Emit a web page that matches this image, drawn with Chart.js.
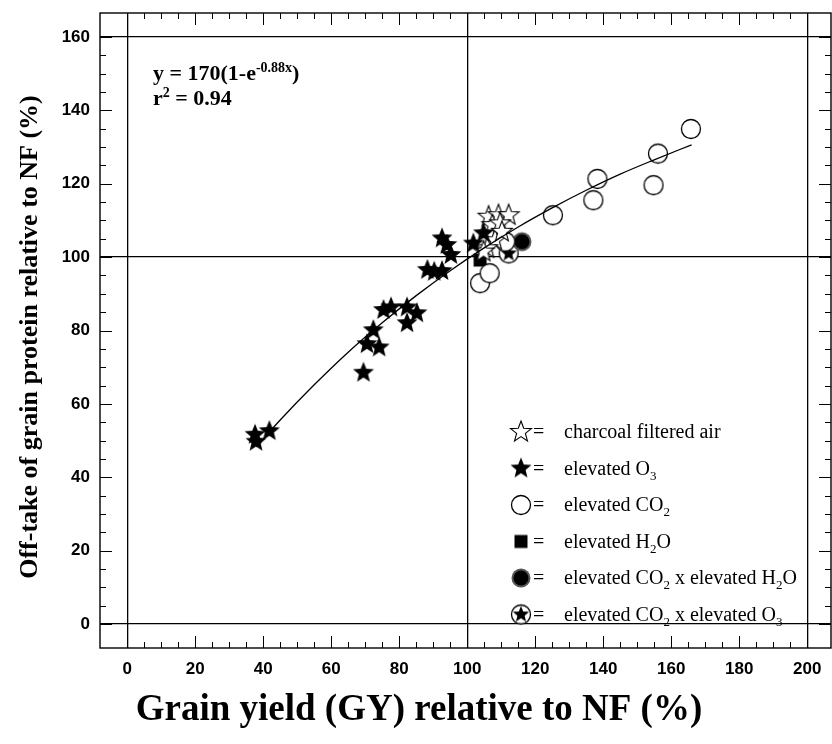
<!DOCTYPE html>
<html>
<head>
<meta charset="utf-8">
<script src="https://cdn.jsdelivr.net/npm/chart.js@4.4.0/dist/chart.umd.min.js"></script>
<style>
  html, body { margin: 0; padding: 0; background: #fff; }
</style>
</head>
<body>
<canvas id="chart" width="832" height="744"></canvas>
<script>
// ===== Data (% relative to NF) =====
const charcoalX = [106.3, 109.2, 112.2, 107.4, 109.7, 108.2, 110.2, 105.9, 104.8];
const charcoalY = [111.0, 111.4, 111.4, 108.7, 109.2, 104.6, 106.9, 102.4, 101.5];

const ozoneX = [37.6, 37.9, 41.8, 69.5, 70.5, 74.1, 72.4, 75.4, 77.6, 82.3, 85.2, 82.3, 92.6, 94.0, 95.2, 88.3, 90.3, 92.6, 101.8, 104.8];
const ozoneY = [51.6, 49.7, 52.6, 68.5, 76.3, 75.4, 80.1, 85.6, 86.3, 86.3, 84.7, 82.0, 105.1, 103.3, 100.6, 96.5, 96.0, 96.2, 103.7, 106.5];

const co2X = [103.8, 106.6, 111.2, 125.2, 137.1, 138.3, 154.8, 156.1, 165.8];
const co2Y = [92.9, 95.6, 104.2, 111.4, 115.5, 121.3, 119.6, 128.2, 134.9];

const waterX = [103.8];
const waterY = [99.2];

const co2WaterX = [116.1];
const co2WaterY = [104.2];

const co2OzoneX = [112.2];
const co2OzoneY = [101.0];

// fitted curve
const fitX = [38, 45, 55, 65, 75, 85, 95, 105, 115, 125, 135, 145, 155, 166];
const fitY = [48.3, 55.6, 65.2, 74.1, 82.1, 89.5, 96.3, 102.5, 108.2, 113.4, 118.2, 122.6, 126.5, 130.6];

const xTicks = [0, 20, 40, 60, 80, 100, 120, 140, 160, 180, 200];
const yTicks = [0, 20, 40, 60, 80, 100, 120, 140, 160];
const xRefLines = [0, 100, 200];
const yRefLines = [0, 100, 160];

// ===== Marker images =====
function makeMarker(size, draw) {
  const c = document.createElement('canvas');
  c.width = size; c.height = size;
  const g = c.getContext('2d');
  g.translate(size / 2, size / 2);
  draw(g);
  return c;
}

function starPath(g, R, r) {
  g.beginPath();
  for (let i = 0; i < 10; i++) {
    const rad = i % 2 ? r : R;
    const a = -Math.PI / 2 + i * Math.PI / 5;
    g.lineTo(rad * Math.cos(a), rad * Math.sin(a));
  }
  g.closePath();
}

const mStarOpen = makeMarker(26, g => {
  starPath(g, 11, 4.6);
  g.fillStyle = '#fff'; g.fill();
  g.lineWidth = 1.1; g.strokeStyle = '#000'; g.stroke();
});
const mStarFilled = makeMarker(26, g => {
  starPath(g, 11, 4.8);
  g.fillStyle = '#000'; g.fill();
});
const mCircle = makeMarker(26, g => {
  g.beginPath(); g.arc(0, 0, 9.5, 0, Math.PI * 2);
  g.fillStyle = '#fff'; g.fill();
  g.lineWidth = 1.3; g.strokeStyle = '#000'; g.stroke();
});
const mSquare = makeMarker(20, g => {
  g.fillStyle = '#000'; g.fillRect(-6.5, -6.5, 13, 13);
});
const mCircleFilled = makeMarker(26, g => {
  g.beginPath(); g.arc(0, 0, 9.5, 0, Math.PI * 2);
  g.fillStyle = '#555'; g.fill();
  g.beginPath(); g.arc(0, 0, 7.5, 0, Math.PI * 2);
  g.fillStyle = '#000'; g.fill();
});
const mCircleStar = makeMarker(26, g => {
  g.beginPath(); g.arc(0, 0, 9.5, 0, Math.PI * 2);
  g.fillStyle = '#fff'; g.fill();
  g.lineWidth = 1.3; g.strokeStyle = '#000'; g.stroke();
  starPath(g, 8.5, 3.8);
  g.fillStyle = '#000'; g.fill();
});

const pts = (xs, ys) => xs.map((x, i) => ({ x: x, y: ys[i] }));

const serif = "'Liberation Serif', 'Times New Roman', serif";
const sans = "'Liberation Sans', Arial, sans-serif";

// draw text made of runs: [text, mode] with mode 0 normal, 1 sub, 2 sup
function drawRuns(ctx, x, y, runs, size, weight) {
  ctx.textBaseline = 'alphabetic';
  ctx.textAlign = 'left';
  runs.forEach(([t, mode]) => {
    const s = mode ? Math.round(size * 0.65) : size;
    ctx.font = `${weight} ${s}px ${serif}`;
    const dy = mode === 1 ? size * 0.25 : mode === 2 ? -size * 0.38 : 0;
    ctx.fillText(t, x, y + dy);
    x += ctx.measureText(t).width;
  });
}

const legendRows = [
  { img: mStarOpen, runs: [['charcoal filtered air', 0]] },
  { img: mStarFilled, runs: [['elevated O', 0], ['3', 1]] },
  { img: mCircle, runs: [['elevated CO', 0], ['2', 1]] },
  { img: mSquare, runs: [['elevated H', 0], ['2', 1], ['O', 0]] },
  { img: mCircleFilled, runs: [['elevated CO', 0], ['2', 1], [' x elevated H', 0], ['2', 1], ['O', 0]] },
  { img: mCircleStar, runs: [['elevated CO', 0], ['2', 1], [' x elevated O', 0], ['3', 1]] },
];

// ===== Frame, inward ticks, axis titles, equation and legend =====
const decorations = {
  id: 'decorations',
  afterDraw(chart) {
    const ctx = chart.ctx;
    const { left, right, top, bottom } = chart.chartArea;
    const sx = chart.scales.x, sy = chart.scales.y;
    ctx.save();
    ctx.strokeStyle = '#000';
    ctx.lineWidth = 1.4;
    ctx.strokeRect(left, top, right - left, bottom - top);

    ctx.lineWidth = 1;
    ctx.beginPath();
    for (let v = 0; v <= 200; v += 5) {
      const px = Math.round(sx.getPixelForValue(v)) + 0.5;
      const len = v % 20 === 0 ? 12 : 6;
      ctx.moveTo(px, bottom); ctx.lineTo(px, bottom - len);
      ctx.moveTo(px, top); ctx.lineTo(px, top + len);
    }
    for (let v = 0; v <= 160; v += 5) {
      const py = Math.round(sy.getPixelForValue(v)) + 0.5;
      const len = v % 20 === 0 ? 12 : 6;
      ctx.moveTo(left, py); ctx.lineTo(left + len, py);
      ctx.moveTo(right, py); ctx.lineTo(right - len, py);
    }
    ctx.stroke();

    // axis titles (placed as in the original, a little off the axis centres)
    ctx.fillStyle = '#000';
    ctx.textAlign = 'center';
    ctx.textBaseline = 'middle';
    ctx.font = `bold 37px ${serif}`;
    ctx.fillText('Grain yield (GY) relative to NF (%)', 419, 710);
    ctx.save();
    ctx.translate(30, 337);
    ctx.rotate(-Math.PI / 2);
    ctx.font = `bold 26px ${serif}`;
    ctx.fillText('Off-take of grain protein relative to NF (%)', 0, 0);
    ctx.restore();

    // equation
    drawRuns(ctx, 153, 80, [['y = 170(1-e', 0], ['-0.88x', 2], [')', 0]], 22, 'bold');
    drawRuns(ctx, 153, 105, [['r', 0], ['2', 2], [' = 0.94', 0]], 22, 'bold');

    // legend
    legendRows.forEach((row, i) => {
      const cy = 432 + i * 36.5;
      ctx.drawImage(row.img, 521 - row.img.width / 2, cy - row.img.height / 2);
      ctx.font = `20px ${serif}`;
      ctx.textAlign = 'left';
      ctx.textBaseline = 'alphabetic';
      ctx.fillText('=', 533, cy + 6);
      drawRuns(ctx, 564, cy + 6, row.runs, 20, 'normal');
    });
    ctx.restore();
  }
};

const markerSet = (label, xs, ys, img) => ({
  type: 'scatter',
  label: label,
  data: pts(xs, ys),
  pointStyle: img,
  pointRadius: 10,
  pointHoverRadius: 10,
  showLine: false,
});

new Chart(document.getElementById('chart'), {
  data: {
    datasets: [
      {
        type: 'line',
        label: 'fit',
        data: pts(fitX, fitY),
        borderColor: '#000',
        borderWidth: 1.3,
        pointRadius: 0,
        fill: false,
        cubicInterpolationMode: 'monotone',
      },
      markerSet('elevated O3', ozoneX, ozoneY, mStarFilled),
      markerSet('charcoal filtered air', charcoalX, charcoalY, mStarOpen),
      markerSet('elevated CO2', co2X, co2Y, mCircle),
      markerSet('elevated H2O', waterX, waterY, mSquare),
      markerSet('elevated CO2 x elevated H2O', co2WaterX, co2WaterY, mCircleFilled),
      markerSet('elevated CO2 x elevated O3', co2OzoneX, co2OzoneY, mCircleStar),
    ],
  },
  options: {
    responsive: false,
    animation: false,
    layout: { autoPadding: false, padding: { top: 13, right: 1, left: 0, bottom: 0 } },
    plugins: {
      legend: { display: false },
      tooltip: { enabled: false },
    },
    scales: {
      x: {
        type: 'linear',
        min: -8,
        max: 207,
        afterFit: s => { s.height = 96; s.paddingLeft = 0; s.paddingRight = 0; },
        afterBuildTicks: s => { s.ticks = xTicks.map(v => ({ value: v })); },
        border: { display: false },
        grid: {
          drawTicks: false,
          lineWidth: 1.3,
          color: c => xRefLines.includes(c.tick && c.tick.value) ? '#000' : 'rgba(0,0,0,0)',
        },
        ticks: {
          padding: 11,
          color: '#000',
          font: { family: sans, size: 17, weight: 'bold' },
        },
      },
      y: {
        type: 'linear',
        min: -6.5,
        max: 166.5,
        afterFit: s => { s.width = 100; s.paddingTop = 0; s.paddingBottom = 0; },
        afterBuildTicks: s => { s.ticks = yTicks.map(v => ({ value: v })); },
        border: { display: false },
        grid: {
          drawTicks: false,
          lineWidth: 1.3,
          color: c => yRefLines.includes(c.tick && c.tick.value) ? '#000' : 'rgba(0,0,0,0)',
        },
        ticks: {
          padding: 10,
          color: '#000',
          font: { family: sans, size: 17, weight: 'bold' },
        },
      },
    },
  },
  plugins: [decorations],
});
</script>
</body>
</html>
